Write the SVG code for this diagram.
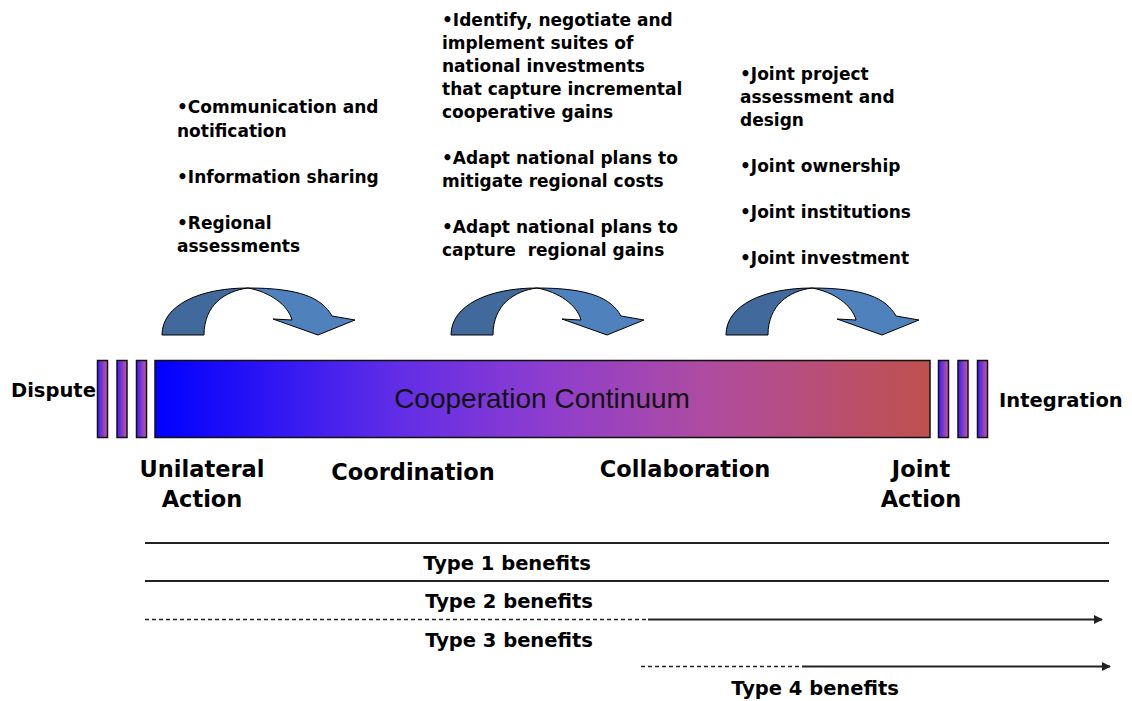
<svg xmlns="http://www.w3.org/2000/svg" width="1132" height="701" viewBox="0 0 1132 701">
<style>
.b{font-family:"DejaVu Sans",Verdana,sans-serif;font-weight:bold;fill:#000}
.t17{font-size:17px}
.t22{font-size:22.5px}
.t19{font-size:19.5px}
.dark{fill:#41699C;stroke:#000;stroke-width:1}
.light{fill:#4F81BD;stroke:#000;stroke-width:1}
.tick{fill:url(#tickGrad);stroke:#111;stroke-width:1.5}
.ln{stroke:#222;stroke-width:1.8;fill:none}
.dash{stroke:#222;stroke-width:1.6;stroke-dasharray:4 3;fill:none}
</style>
<defs>
<linearGradient id="barGrad" x1="0" y1="0" x2="1" y2="0">
<stop offset="0" stop-color="#0000FF"/>
<stop offset="0.3" stop-color="#5E2CE8"/>
<stop offset="0.5" stop-color="#8D3DD0"/>
<stop offset="0.72" stop-color="#B04C9E"/>
<stop offset="1" stop-color="#C0504D"/>
</linearGradient>
<linearGradient id="tickGrad" x1="0" y1="0" x2="1" y2="0">
<stop offset="0" stop-color="#3A1CFF"/>
<stop offset="1" stop-color="#C8589A"/>
</linearGradient>
<g id="curveArrow">
<path class="dark" d="M162,335 C162,305 200,288 248,288 C225,291 204,305 204,335 Z"/>
<path class="light" d="M248,288 C300,288 322,298 332,316 L355,320 L318,335 L273,319 L292,320 C288,305 270,292 248,288 Z"/>
</g>
<marker id="ah" viewBox="0 0 10 10" refX="9" refY="5" markerWidth="5" markerHeight="5" orient="auto" markerUnits="strokeWidth">
<path d="M0,0 L10,5 L0,10 Z" fill="#222"/>
</marker>
</defs>
<rect width="1132" height="701" fill="#fff"/>

<g id="text-unilateral-actions">
<text class="b t17" x="177" y="113">•Communication and</text>
<text class="b t17" x="177" y="137">notification</text>
<text class="b t17" x="177" y="183">•Information sharing</text>
<text class="b t17" x="177" y="229">•Regional</text>
<text class="b t17" x="177" y="252">assessments</text>
</g>
<g id="text-coordination-actions">
<text class="b t17" x="442" y="26">•Identify, negotiate and</text>
<text class="b t17" x="442" y="49">implement suites of</text>
<text class="b t17" x="442" y="72">national investments</text>
<text class="b t17" x="442" y="95">that capture incremental</text>
<text class="b t17" x="442" y="118">cooperative gains</text>
<text class="b t17" x="442" y="164">•Adapt national plans to</text>
<text class="b t17" x="442" y="187">mitigate regional costs</text>
<text class="b t17" x="442" y="233">•Adapt national plans to</text>
<text class="b t17" x="442" y="256" xml:space="preserve">capture  regional gains</text>
</g>
<g id="text-joint-actions">
<text class="b t17" x="740" y="80">•Joint project</text>
<text class="b t17" x="740" y="103">assessment and</text>
<text class="b t17" x="740" y="126">design</text>
<text class="b t17" x="740" y="172">•Joint ownership</text>
<text class="b t17" x="740" y="218">•Joint institutions</text>
<text class="b t17" x="740" y="264">•Joint investment</text>
</g>

<g id="arrow-1"><use href="#curveArrow"/></g>
<g id="arrow-2"><use href="#curveArrow" transform="translate(289,0)"/></g>
<g id="arrow-3"><use href="#curveArrow" transform="translate(564,0)"/></g>

<g id="continuum">
<rect class="tick" x="97.5" y="360.5" width="10" height="77"/>
<rect class="tick" x="117" y="360.5" width="10" height="77"/>
<rect class="tick" x="136.5" y="360.5" width="10" height="77"/>
<rect x="155" y="360.5" width="775" height="77" fill="url(#barGrad)" stroke="#111" stroke-width="1.5"/>
<rect class="tick" x="938.5" y="360.5" width="10" height="77"/>
<rect class="tick" x="958" y="360.5" width="10" height="77"/>
<rect class="tick" x="977.5" y="360.5" width="10" height="77"/>
<text x="542" y="408" text-anchor="middle" font-family="'Liberation Sans',Arial,sans-serif" font-size="28" fill="#111">Cooperation Continuum</text>
</g>
<g id="label-dispute"><text class="b t19" x="11" y="397">Dispute</text></g>
<g id="label-integration"><text class="b t19" x="999" y="407">Integration</text></g>

<g id="stage-unilateral"><text class="b t22" x="202" y="477" text-anchor="middle">Unilateral</text><text class="b t22" x="202" y="507" text-anchor="middle">Action</text></g>
<g id="stage-coordination"><text class="b t22" x="413" y="480" text-anchor="middle">Coordination</text></g>
<g id="stage-collaboration"><text class="b t22" x="685" y="477" text-anchor="middle">Collaboration</text></g>
<g id="stage-joint"><text class="b t22" x="921" y="477" text-anchor="middle">Joint</text><text class="b t22" x="921" y="507" text-anchor="middle">Action</text></g>

<g id="connectors">
<line class="ln" x1="145" y1="543" x2="1109" y2="543"/>
<line class="ln" x1="145" y1="581" x2="1109" y2="581"/>
<line class="dash" x1="145" y1="619.5" x2="648" y2="619.5"/>
<line class="ln" x1="648" y1="619.5" x2="1102" y2="619.5" marker-end="url(#ah)"/>
<line class="dash" x1="641" y1="666.5" x2="802" y2="666.5"/>
<line class="ln" x1="802" y1="666.5" x2="1110" y2="666.5" marker-end="url(#ah)"/>
</g>
<g id="benefit-labels">
<text class="b t19" x="507" y="570" text-anchor="middle">Type 1 benefits</text>
<text class="b t19" x="509" y="608" text-anchor="middle">Type 2 benefits</text>
<text class="b t19" x="509" y="647" text-anchor="middle">Type 3 benefits</text>
<text class="b t19" x="815" y="695" text-anchor="middle">Type 4 benefits</text>
</g>
</svg>
